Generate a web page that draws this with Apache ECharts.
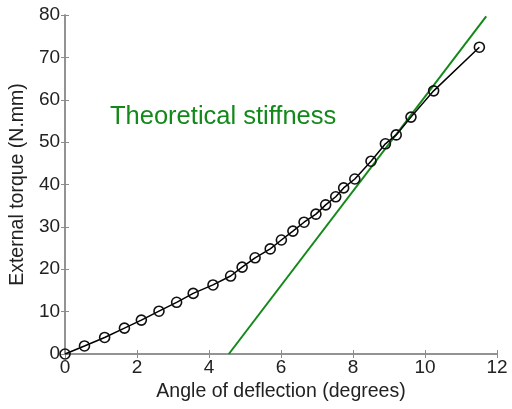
<!DOCTYPE html>
<html><head><meta charset="utf-8">
<script src="https://cdn.jsdelivr.net/npm/echarts@6/dist/echarts.min.js"></script>
<style>html,body{margin:0;padding:0;background:#fff}#c{width:512px;height:409px}</style>
</head><body><div id="c"></div>
<script>
const angle = [0, 0.54, 1.10, 1.65, 2.12, 2.61, 3.10, 3.56, 4.11, 4.60, 4.92, 5.28, 5.70, 6.01, 6.33, 6.64, 6.97, 7.24, 7.52, 7.74, 8.05, 8.50, 8.90, 9.20, 9.61, 10.24, 11.51];
const torque = [0, 1.9, 3.9, 6.1, 8.0, 10.1, 12.2, 14.3, 16.3, 18.4, 20.5, 22.7, 24.8, 26.9, 29.0, 31.1, 33.0, 35.2, 37.1, 39.2, 41.3, 45.5, 49.6, 51.7, 55.9, 62.1, 72.4];
const theoryAngle = [4.55, 11.70];
const theoryTorque = [0, 79.7];
const xTicks = [0, 2, 4, 6, 8, 10, 12];
const yTicks = [0, 10, 20, 30, 40, 50, 60, 70, 80];
const annotation = "Theoretical stiffness";

const FONT = "Liberation Sans";
const axisGray = "#8c8c8c";
const chart = echarts.init(document.getElementById('c'), null, {renderer: 'canvas'});
const measured = angle.map((a, i) => [a, torque[i]]);
const theory = theoryAngle.map((a, i) => [a, theoryTorque[i]]);
const common = {
  min: 0, axisLine: {show: true, lineStyle: {color: axisGray, width: 1.5}},
  axisTick: {show: true, inside: true, length: 4, lineStyle: {color: axisGray}},
  splitLine: {show: false}
};
chart.setOption({
  animation: false,
  backgroundColor: '#fff',
  grid: {left: 63, top: 15, right: 15, bottom: 55, containLabel: false},
  xAxis: [
    Object.assign({}, common, {type: 'value', max: 12, interval: 2, position: 'bottom',
      name: 'Angle of deflection (degrees)', nameLocation: 'middle', nameGap: 28,
      nameTextStyle: {fontFamily: FONT, fontSize: 19.5, color: '#222'},
      axisLabel: {fontFamily: FONT, fontSize: 19, color: '#222', margin: 4,
        formatter: v => xTicks.includes(v) ? String(v) : ''}}),
    Object.assign({}, common, {type: 'value', max: 12, interval: 2, position: 'top', axisLabel: {show: false}})
  ],
  yAxis: [
    Object.assign({}, common, {type: 'value', max: 80, interval: 10, position: 'left',
      name: 'External torque (N.mm)', nameLocation: 'middle', nameGap: 31,
      nameTextStyle: {fontFamily: FONT, fontSize: 19.5, color: '#222'},
      axisLabel: {fontFamily: FONT, fontSize: 19, color: '#222', margin: 5,
        formatter: v => yTicks.includes(v) ? String(v) : ''}}),
    Object.assign({}, common, {type: 'value', max: 80, interval: 10, position: 'right', axisLabel: {show: false}})
  ],
  series: [
    {type: 'line', data: theory, showSymbol: false, symbol: 'none',
      lineStyle: {color: '#13891a', width: 2}, z: 2},
    {type: 'line', data: measured, symbol: 'circle', symbolSize: 10,
      lineStyle: {color: '#000', width: 1.5},
      itemStyle: {color: 'rgba(255,255,255,0)', borderColor: '#111', borderWidth: 1.6}, z: 3}
  ],
  graphic: [{type: 'text', left: 110, top: 104,
    style: {text: annotation, fontFamily: FONT, fontSize: 25.5, fill: '#13891a'}}]
});
</script></body></html>
